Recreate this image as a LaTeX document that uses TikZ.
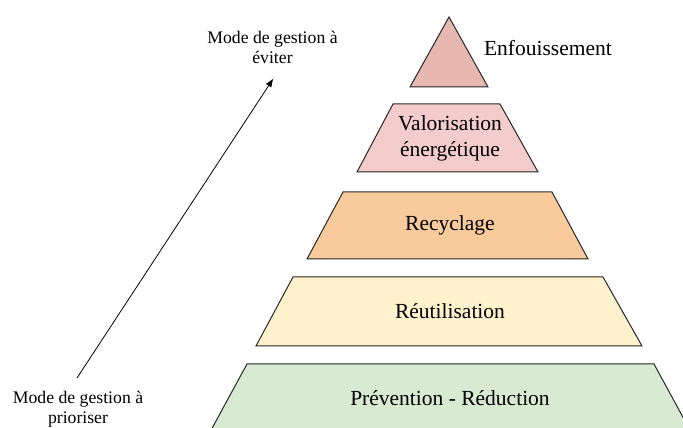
\documentclass[tikz,border=0pt]{standalone}
\usepackage{fontspec}
\setmainfont{Liberation Serif}
\usepackage{xcolor}
\usetikzlibrary{arrows.meta, positioning}

\definecolor{landfill}{HTML}{E6B8AF}
\definecolor{energy}{HTML}{F4CCCC}
\definecolor{recycle}{HTML}{F9CB9C}
\definecolor{reuse}{HTML}{FFF2CC}
\definecolor{prevent}{HTML}{D9EAD3}

\begin{document}
\begin{tikzpicture}[x=1pt, y=1pt, node distance=86.5pt, on grid, level/.style={draw=black!85, line width=1pt, line join=miter}, tag/.style={align=center, font=\rmfamily\fontsize{21.5}{26}\selectfont}, mode/.style={align=center, font=\rmfamily\fontsize{17.7}{20}\selectfont}]

            \useasboundingbox (0,0) rectangle (683,428);

            % pyramid, bottom to top
            \draw[level, fill=prevent] (210,-4) -- (247,64) -- (654,64) -- (691,-4) -- cycle;
            \draw[level, fill=reuse] (256,82) -- (293,151) -- (603,151) -- (642,82) -- cycle;
            \draw[level, fill=recycle] (307,169) -- (343,236) -- (552,236) -- (588,169) -- cycle;
            \draw[level, fill=energy] (357,256) -- (393,324) -- (500,324) -- (538,256) -- cycle;
            \draw[level, fill=landfill] (410,341) -- (449,411) -- (488,341) -- cycle;

            \node[tag] (P1) at (450,30) {Prévention - Réduction};
            \node[tag, above=of P1] (P2) {Réutilisation};
            \node[tag, above=of P2] (P3) {Recyclage};
            \node[tag, above=of P3] (P4) {Valorisation\\énergétique};
            \node[tag] (P5) at (548,380) {Enfouissement};

            \node[mode] (M1) at (272.5,381) {Mode de gestion à\\éviter};
            \node[mode] (M2) at (78,18.5) {Mode de gestion à\\prioriser};

            \coordinate (A1) at (77,50);
            \coordinate (A2) at (273,349);
            \draw[line width=0.8pt, -{Triangle[length=8pt, width=6pt]}] (A1) -- (A2);

        \end{tikzpicture}
\end{document}
